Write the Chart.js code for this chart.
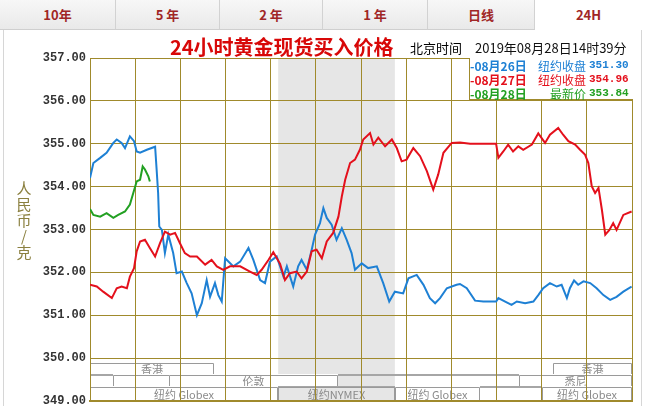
<!DOCTYPE html>
<html>
<head>
<meta charset="utf-8">
<script src="https://cdn.jsdelivr.net/npm/chart.js@4"></script>
<style>
  body { margin: 0; background: #fff; font-family: "Noto Sans CJK SC", sans-serif; }
  #wrap { position: relative; width: 646px; height: 406px; overflow: hidden; }
  #tabs { position: absolute; left: 0; top: 0; width: 642px; height: 30px; display: flex; }
  .tab { box-sizing: border-box; height: 30px; line-height: 30px; text-align: center;
         background: linear-gradient(#f7f7f7, #e9e9e9); border-right: 1px solid #d2d2d2;
         border-bottom: 1px solid #cfcfcf; color: #a02626; font-weight: bold; font-size: 13px; }
  .tab.on { background: #fff; border-bottom: none; border-right: none; }
  #frame { position: absolute; left: 3px; top: 30px; width: 637px; height: 380px;
           border-left: 1px solid #d6d6d6; border-right: 1px solid #d6d6d6; }
  #chart { position: absolute; left: 0; top: 0; z-index: 1; }
  .ov { position: absolute; z-index: 2; white-space: nowrap; }
  #title { left: 170px; top: 36px; font-size: 20px; line-height: 21px; font-weight: bold; color: #d80808; }
  #bj { left: 410px; top: 40px; font-size: 13px; line-height: 16px; color: #000; }
  #stamp { left: 475px; top: 40px; font-size: 13px; line-height: 16px; color: #111; }
  #legend { left: 469px; top: 58px; width: 163px; height: 41px; background: #fff;
            border-left: 1px solid #a08a2c; border-bottom: 1px solid #a08a2c; }
  .row { display: flex; height: 13.5px; line-height: 13.5px; font-size: 12px; font-weight: bold; margin-top: 0.5px; }
  .row .d { width: 58px; }
  .row .l { flex: 1; text-align: right; font-weight: normal; }
  .row .v { width: 44px; margin-left: 3px; font-family: "Liberation Mono", monospace; font-size: 11px; }
  #ytitle { left: 15px; top: 180px; width: 18px; text-align: center; font-size: 15px; line-height: 16px; color: #8b8040; }
</style>
</head>
<body>
<div id="wrap">
  <div id="tabs"></div>
  <div id="frame"></div>
  <canvas id="chart" width="646" height="406"></canvas>
  <div class="ov" id="title">24小时黄金现货买入价格</div>
  <div class="ov" id="bj">北京时间</div>
  <div class="ov" id="stamp">2019年08月28日14时39分</div>
  <div class="ov" id="legend"></div>
  <div class="ov" id="ytitle">人<br>民<br>币<br>/<br>克</div>
</div>
<script>
// tabs across the top
const tabLabels = ["10年", "5 年", "2 年", "1 年", "日线", "24H"];
const tabWidths = [116, 104, 103, 105, 107, 107];

// minutes after 12:00 Beijing time, and price in CNY/gram
const blueMinutes = [0, 9, 27, 44, 62, 71, 84, 93, 106, 117, 124, 133, 151, 173, 177, 181, 184, 191, 199, 208,
  221, 230, 244, 257, 270, 284, 297, 310, 319, 332, 341, 350, 359, 381, 399, 421, 434, 452, 465, 478,
  496, 514, 523, 540, 553, 562, 576, 589, 598, 611, 620, 629, 642, 655, 669, 682, 695, 704, 722, 739,
  762, 779, 795, 810, 832, 846, 868, 886, 903, 917, 930, 948, 974, 983, 1001, 1023, 1045, 1079, 1085, 1103,
  1120, 1134, 1156, 1178, 1191, 1204, 1222, 1240, 1253, 1267, 1275, 1286, 1297, 1311, 1329, 1346, 1364, 1382, 1399, 1417, 1439];
const blueValues = [354.20, 354.55, 354.67, 354.79, 355.02, 355.10, 355.02, 354.90, 355.17, 355.06, 354.82, 354.79, 354.86, 354.93, 354.40, 353.85, 353.07, 352.99, 352.45, 352.88,
  352.45, 351.98, 352.02, 351.75, 351.51, 351.00, 351.28, 351.82, 351.43, 351.75, 351.47, 351.32, 352.33, 352.14, 352.25, 352.57, 352.29, 351.82, 351.75, 352.25,
  352.37, 351.90, 352.14, 351.67, 352.14, 352.29, 352.06, 352.53, 352.88, 353.15, 353.50, 353.27, 353.11, 352.76, 353.03, 352.76, 352.45, 352.06, 352.21, 352.10,
  352.14, 351.75, 351.32, 351.55, 351.51, 351.86, 351.94, 351.71, 351.40, 351.28, 351.40, 351.63, 351.71, 351.73, 351.63, 351.34, 351.32, 351.32, 351.40, 351.32,
  351.24, 351.32, 351.28, 351.32, 351.47, 351.63, 351.75, 351.67, 351.71, 351.40, 351.63, 351.81, 351.71, 351.79, 351.75, 351.63, 351.47, 351.36, 351.43, 351.55, 351.67];

const redMinutes = [0, 18, 35, 58, 71, 84, 98, 106, 117, 124, 133, 146, 159, 173, 186, 199, 213, 226, 239, 252,
  266, 284, 306, 323, 337, 354, 372, 399, 425, 443, 456, 474, 487, 505, 518, 531, 549, 562, 576, 589,
  602, 616, 629, 646, 660, 669, 678, 691, 704, 717, 726, 744, 753, 766, 784, 802, 815, 828, 841, 859,
  877, 895, 912, 925, 939, 961, 983, 1010, 1079, 1085, 1098, 1111, 1124, 1138, 1151, 1174, 1191, 1209, 1222, 1244,
  1257, 1271, 1289, 1302, 1315, 1324, 1333, 1342, 1351, 1360, 1369, 1380, 1390, 1399, 1417, 1439];
const redValues = [351.71, 351.67, 351.55, 351.40, 351.63, 351.67, 351.63, 351.90, 352.10, 352.49, 352.72, 352.76, 352.57, 352.37, 352.68, 352.95, 352.88, 352.92, 352.68, 352.45,
  352.37, 352.37, 352.18, 352.29, 352.14, 352.06, 352.14, 352.14, 352.02, 351.94, 352.06, 352.29, 352.47, 352.20, 351.82, 351.98, 352.02, 351.86, 352.02, 352.49,
  352.53, 352.33, 352.72, 352.92, 353.30, 353.77, 354.16, 354.55, 354.63, 354.86, 355.10, 355.25, 354.98, 355.14, 354.94, 355.10, 354.90, 354.59, 354.63, 354.90,
  354.71, 354.36, 353.93, 354.28, 354.79, 355.02, 355.03, 355.00, 355.00, 354.67, 354.82, 354.98, 354.82, 354.94, 354.86, 354.98, 355.24, 355.02, 355.21, 355.37,
  355.21, 355.06, 354.98, 354.86, 354.75, 354.55, 354.01, 353.85, 353.97, 353.46, 352.88, 352.99, 353.15, 352.99, 353.34, 353.42];

const greenMinutes = [0, 9, 27, 44, 62, 75, 93, 106, 115, 124, 133, 140, 146, 155, 159];
const greenValues = [353.48, 353.34, 353.30, 353.38, 353.27, 353.34, 353.42, 353.58, 353.85, 354.12, 354.16, 354.47, 354.40, 354.24, 354.12];

// legend rows
const legendDates = ["-08月26日", "-08月27日", "-08月28日"];
const legendLabels = ["纽约收盘", "纽约收盘", "最新价"];
const legendValues = ["351.30", "354.96", "353.84"];
const seriesColors = ["#1e80d4", "#e4101c", "#22a022"];

// trading sessions shown in the strip at the bottom (minutes after 12:00)
const nymexBand = [500, 810];
const sessionNames = ["香港", "香港", "", "伦敦", "悉尼", "纽约 Globex", "纽约NYMEX", "纽约 Globex", "纽约 Globex"];
const sessionStart = [0, 1230, 60, 210, 1140, 0, 500, 810, 1200];
const sessionEnd = [330, 1440, 240, 660, 1440, 500, 810, 1036, 1440];
const sessionTrack = [0, 0, 1, 1, 1, 2, 2, 2, 2];

const gridColor = "#a08a2c";

document.getElementById("tabs").innerHTML = tabLabels
  .map((t, i) => `<div class="tab${i === tabLabels.length - 1 ? " on" : ""}" style="width:${tabWidths[i]}px">${t}</div>`)
  .join("");

document.getElementById("legend").innerHTML = legendDates
  .map((d, i) => `<div class="row" style="color:${seriesColors[i]}"><span class="d">${d}</span><span class="l">${legendLabels[i]}</span><span class="v">${legendValues[i]}</span></div>`)
  .join("");

function toPoints(minutes, values) {
  return minutes.map((m, i) => ({ x: m, y: values[i] }));
}

const sessionPlugin = {
  id: "sessions",
  beforeDraw(chart) {
    const { ctx, chartArea: a, scales: { x, y } } = chart;
    const levels = [349.89, 349.6, 349.32, 349.0];
    ctx.save();
    // NYMEX hours shading
    const bx0 = x.getPixelForValue(nymexBand[0]);
    const bx1 = x.getPixelForValue(nymexBand[1]);
    ctx.fillStyle = "#e6e6e6";
    ctx.fillRect(bx0, a.top, bx1 - bx0, a.bottom - a.top);
    // track separators
    ctx.strokeStyle = "#a6a6a6";
    ctx.lineWidth = 2;
    [1, 2].forEach((k) => {
      const py = Math.round(y.getPixelForValue(levels[k]));
      ctx.beginPath();
      ctx.moveTo(a.left, py);
      ctx.lineTo(a.right, py);
      ctx.stroke();
    });
    // session boxes
    ctx.font = "11px 'Noto Sans CJK SC', sans-serif";
    ctx.textAlign = "center";
    ctx.textBaseline = "middle";
    sessionNames.forEach((name, i) => {
      const t = sessionTrack[i];
      const x0 = Math.round(x.getPixelForValue(sessionStart[i]));
      const x1 = Math.round(x.getPixelForValue(sessionEnd[i]));
      const top = Math.round(y.getPixelForValue(levels[t]));
      const bot = Math.round(y.getPixelForValue(levels[t + 1]));
      const inBand = sessionStart[i] >= nymexBand[0] && sessionEnd[i] <= nymexBand[1];
      if (!inBand) {
        ctx.fillStyle = "#fff";
        ctx.fillRect(x0, top - 1, x1 - x0, bot - top);
      }
      ctx.strokeStyle = "#9a9a9a";
      ctx.lineWidth = 1;
      ctx.beginPath();
      ctx.moveTo(x0 + 0.5, bot - 1);
      ctx.lineTo(x0 + 0.5, top + 0.5);
      ctx.lineTo(x1 - 0.5, top + 0.5);
      ctx.lineTo(x1 - 0.5, bot - 1);
      ctx.stroke();
      if (name) {
        ctx.fillStyle = "#8a8a8a";
        ctx.fillText(name, (x0 + x1) / 2, (top + bot) / 2 + 1);
      }
    });
    ctx.restore();
  },
};

new Chart(document.getElementById("chart"), {
  type: "line",
  data: {
    datasets: [
      { label: "08月28日", data: toPoints(greenMinutes, greenValues), borderColor: seriesColors[2], order: 0 },
      { label: "08月27日", data: toPoints(redMinutes, redValues), borderColor: seriesColors[1], order: 1 },
      { label: "08月26日", data: toPoints(blueMinutes, blueValues), borderColor: seriesColors[0], order: 2 },
    ],
  },
  options: {
    responsive: false,
    animation: false,
    devicePixelRatio: 1,
    elements: {
      line: { borderWidth: 2, tension: 0, fill: false },
      point: { radius: 0 },
    },
    layout: { padding: { top: 58, right: 14, bottom: 5, left: 0 } },
    plugins: { legend: { display: false }, tooltip: { enabled: false } },
    scales: {
      x: {
        type: "linear",
        min: 0,
        max: 1440,
        ticks: { display: false, stepSize: 120 },
        grid: { color: gridColor, drawTicks: false },
        border: { color: gridColor, width: 2 },
        afterFit(s) { s.height = 0; },
      },
      y: {
        min: 349,
        max: 357,
        ticks: {
          stepSize: 1,
          padding: 4,
          color: "#333",
          font: { family: "'Liberation Mono', monospace", size: 12, weight: "bold" },
          callback: (v) => v.toFixed(2),
        },
        grid: { color: gridColor, drawTicks: false },
        border: { color: gridColor, width: 1 },
        afterFit(s) { s.width = 90; s.paddingTop = 0; s.paddingBottom = 0; },
      },
    },
  },
  plugins: [sessionPlugin],
});
</script>
</body>
</html>
